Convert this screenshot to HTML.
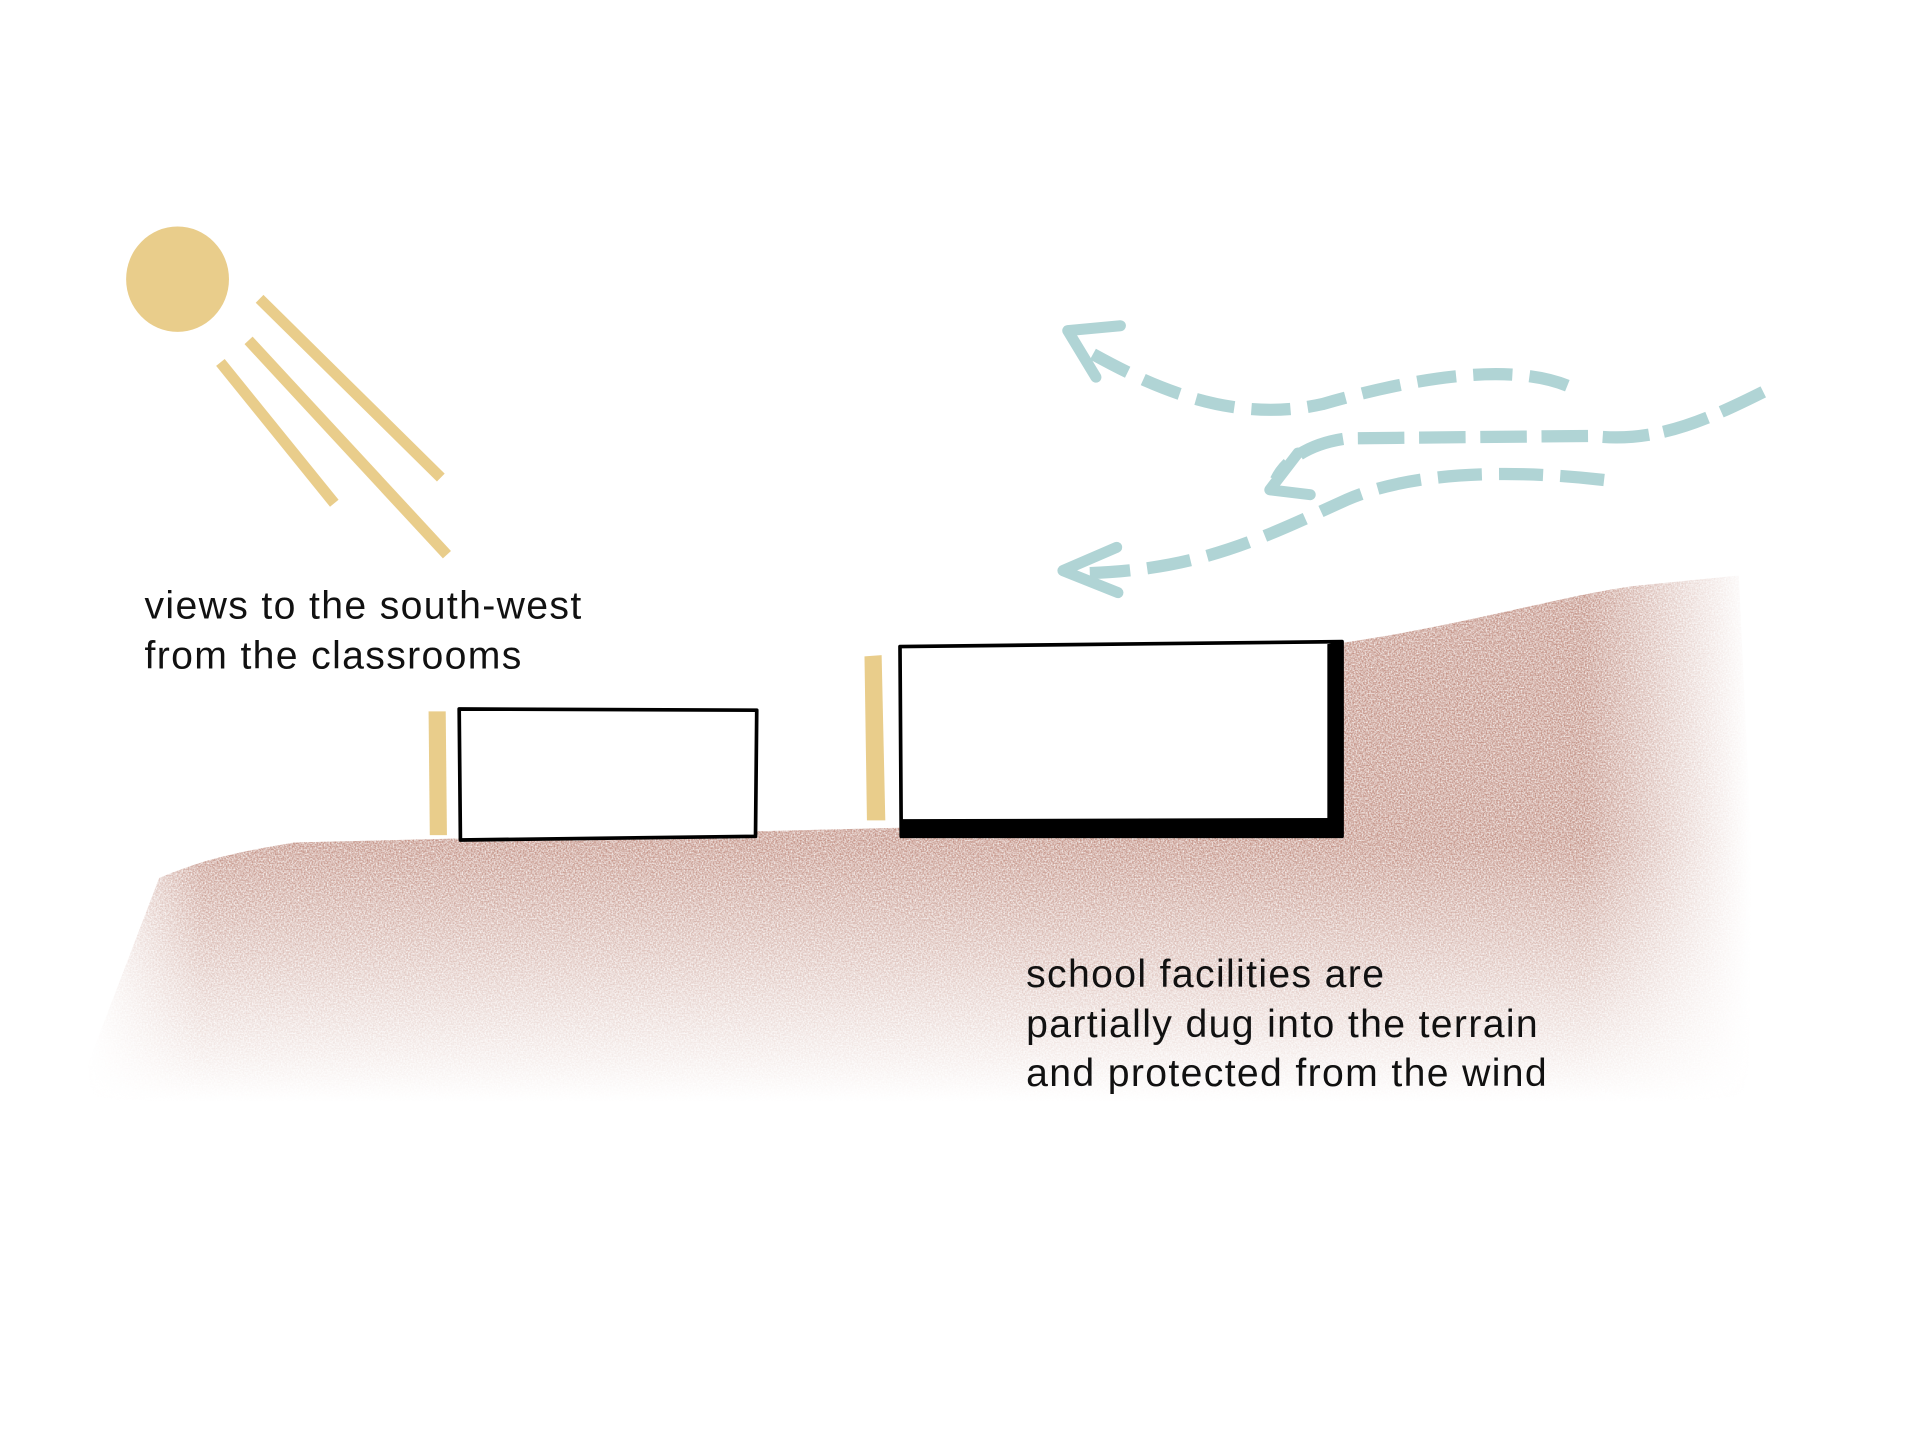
<!DOCTYPE html>
<html><head><meta charset="utf-8"><style>html,body{margin:0;padding:0;background:#fff}svg{display:block}</style></head>
<body>
<svg width="1920" height="1440" viewBox="0 0 1568 1176" xmlns="http://www.w3.org/2000/svg">
<defs>
<filter id="grain" filterUnits="userSpaceOnUse" x="0" y="400" width="1568" height="600">
<feTurbulence type="fractalNoise" baseFrequency="0.8" numOctaves="2" seed="3" result="n"/>
<feColorMatrix in="n" type="matrix" values="0 0 0 0 0  0 0 0 0 0  0 0 0 0 0  0 0 0 -1.6 1.45" result="a"/>
<feComposite in="SourceGraphic" in2="a" operator="in"/>
</filter>
<linearGradient id="vg" gradientUnits="userSpaceOnUse" x1="0" y1="480" x2="0" y2="900">
<stop offset="0" stop-color="#fff"/><stop offset="0.5" stop-color="#fff"/><stop offset="1" stop-color="#000"/>
</linearGradient>
<linearGradient id="hg" gradientUnits="userSpaceOnUse" x1="70" y1="0" x2="1430" y2="0">
<stop offset="0" stop-color="#000"/><stop offset="0.07" stop-color="#fff"/><stop offset="0.9" stop-color="#fff"/><stop offset="1" stop-color="#000"/>
</linearGradient>
<mask id="mv" maskUnits="userSpaceOnUse" x="0" y="0" width="1568" height="1176"><rect width="1568" height="1176" fill="url(#vg)"/></mask>
<mask id="mh" maskUnits="userSpaceOnUse" x="0" y="0" width="1568" height="1176"><rect width="1568" height="1176" fill="url(#hg)"/></mask>
</defs>
<g mask="url(#mh)"><g mask="url(#mv)"><g filter="url(#grain)">
<path d="M130,717 C170,700 200,695 240,688 L735,676 L1096,680 L1096,525 C1200,510 1280,485 1340,478 L1420,470 L1440,900 L60,900 Z" fill="#c49488"/>
</g></g></g>
<!-- sun -->
<ellipse cx="145" cy="228" rx="42" ry="43" fill="#e9cd8b"/>
<g stroke="#e9cd8b" stroke-width="9" stroke-linecap="butt">
<line x1="212" y1="244" x2="360" y2="390"/>
<line x1="203" y1="278" x2="365" y2="453"/>
<line x1="180" y1="296" x2="273" y2="411"/>
</g>
<!-- wind -->
<g fill="none" stroke="#b0d4d5" stroke-width="10" stroke-linecap="butt">
<path d="M1280,315 C1230,295 1150,310 1080,330 C1000,348 930,310 885,285" stroke-dasharray="32 14"/>
<path d="M1440,320 C1390,345 1350,362 1300,356 L1100,358 C1070,362 1050,375 1042,392" stroke-dasharray="38 12"/>
<path d="M1310,392 C1250,385 1160,382 1100,408 C1030,440 980,465 890,468" stroke-dasharray="36 14"/>
</g>
<g fill="none" stroke="#b0d4d5" stroke-width="9" stroke-linecap="round" stroke-linejoin="round">
<path d="M915,266 L872,270 L895,308"/>
<path d="M1060,370 L1037,400 L1070,404"/>
<path d="M912,447 L868,466 L913,484"/>
</g>
<!-- yellow bars -->
<path d="M350,581 L364,581 L365,682 L351,682 Z" fill="#e9cd8b"/>
<path d="M706,536 L720,535 L723,670 L708,670 Z" fill="#e9cd8b"/>
<!-- small building -->
<path d="M375,579 L618,580 L617,683 L376,686 Z" fill="#fff" stroke="#000" stroke-width="3" stroke-linejoin="round"/>
<!-- big building -->
<path d="M735,528 L1096,524 L1096,683 L736,683 Z" fill="#fff" stroke="#000" stroke-width="3" stroke-linejoin="round"/>
<path d="M1084,526 L1096,524 L1096,683 L1084,683 Z" fill="#000"/>
<path d="M736,669 L1096,668 L1096,683 L736,683 Z" fill="#000"/>
<!-- text -->
<g font-family="'Liberation Sans', sans-serif" font-size="32" fill="#111" letter-spacing="1.1">
<text x="118" y="505">views to the south-west</text>
<text x="118" y="546">from the classrooms</text>
<text x="838" y="806">school facilities are</text>
<text x="838" y="847">partially dug into the terrain</text>
<text x="838" y="887">and protected from the wind</text>
</g>
</svg>
</body></html>
